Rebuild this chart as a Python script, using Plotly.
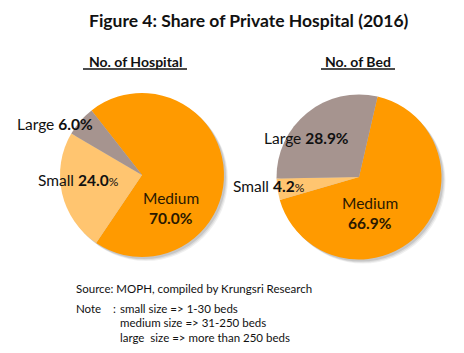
import plotly.graph_objects as go

W, H = 464, 353

categories = ["Medium", "Small", "Large"]
hospital_share = [70.0, 24.0, 6.0]
bed_share = [66.9, 4.2, 28.9]
colors = {"Medium": "#FF9A00", "Small": "#FFC570", "Large": "#A6948F"}

title = "Figure 4: Share of Private Hospital (2016)"
sub_left = "No. of Hospital"
sub_right = "No. of Bed"
source = "Source: MOPH, compiled by Krungsri Research"
notes = ["small size => 1-30 beds", "medium size => 31-250 beds", "large  size => more than 250 beds"]

FONT = "Lato"
LBL = 15.5


def px(x):
    return x / W


def py(y):
    return 1 - y / H


def dom(cx, cy, r):
    return dict(x=[px(cx - r), px(cx + r)], y=[py(cy + r), py(cy - r)])


fig = go.Figure()

# soft shadows
for cx, cy, r in [(142, 175, 82), (359, 177, 82.5)]:
    for k, op in [(4, 0.06), (3, 0.08), (2, 0.10)]:
        fig.add_shape(type="circle", xref="paper", yref="paper",
                      x0=px(cx - r + k), x1=px(cx + r + k), y0=py(cy + r + k), y1=py(cy - r + k),
                      fillcolor=f"rgba(0,0,0,{op})", line=dict(width=0), layer="below")

fig.add_trace(go.Pie(labels=categories, values=hospital_share, sort=False, direction="clockwise",
                     rotation=-38, marker=dict(colors=[colors[c] for c in categories], line=dict(width=0)),
                     textinfo="none", hoverinfo="label+value", domain=dom(142, 175, 82), showlegend=False))
fig.add_trace(go.Pie(labels=categories, values=bed_share, sort=False, direction="clockwise",
                     rotation=13, marker=dict(colors=[colors[c] for c in categories], line=dict(width=0)),
                     textinfo="none", hoverinfo="label+value", domain=dom(359, 177, 82.5), showlegend=False))

ann = []


def add(text, x, y, size=LBL, xanchor="left", color="#111111"):
    ann.append(dict(text=text, x=px(x), y=py(y), xref="paper", yref="paper", showarrow=False,
                    xanchor=xanchor, yanchor="middle", font=dict(family=FONT, size=size, color=color)))


def fmt(v):
    return f"{v:.1f}%"


def fmt_small_pct(v):
    return f"<b>{v:.1f}</b><span style='font-size:12px'>%</span>"


add(f"<b>{title}</b>", 249, 20, size=17.5, xanchor="center")
add(f"<b>{sub_left}</b>", 135, 61, size=14, xanchor="center")
add(f"<b>{sub_right}</b>", 358, 61, size=14, xanchor="center")

# left pie labels
add(f"Large <b>{fmt(hospital_share[2])}</b>", 15, 124)
add(f"Small {fmt_small_pct(hospital_share[1])}", 36, 180)
add("Medium", 171, 198, xanchor="center", color="#2a1800")
add(f"<b>{fmt(hospital_share[0])}</b>", 171, 218, xanchor="center", color="#2a1800")

# right pie labels
add(f"Large <b>{fmt(bed_share[2])}</b>", 262, 138)
add(f"Small {fmt_small_pct(bed_share[1])}", 231, 186)
add("Medium", 370, 203, xanchor="center", color="#2a1800")
add(f"<b>{fmt(bed_share[0])}</b>", 370, 223, xanchor="center", color="#2a1800")

add(source, 74, 288, size=11.5)
add("Note", 74, 308, size=11.5)
add(":", 111, 308, size=11.5)
for i, n in enumerate(notes):
    add(n, 118, 308 + i * 14.5, size=11.5)

shapes = [
    dict(type="line", xref="paper", yref="paper", x0=px(83), x1=px(187), y0=py(69), y1=py(69),
         line=dict(color="#111111", width=1.3)),
    dict(type="line", xref="paper", yref="paper", x0=px(321), x1=px(395), y0=py(69), y1=py(69),
         line=dict(color="#111111", width=1.3)),
]
for s in shapes:
    fig.add_shape(**s)

fig.update_layout(width=W, height=H, margin=dict(l=0, r=0, t=0, b=0), paper_bgcolor="white",
                  plot_bgcolor="white", annotations=ann, font=dict(family=FONT))

fig.write_html("out.html")
